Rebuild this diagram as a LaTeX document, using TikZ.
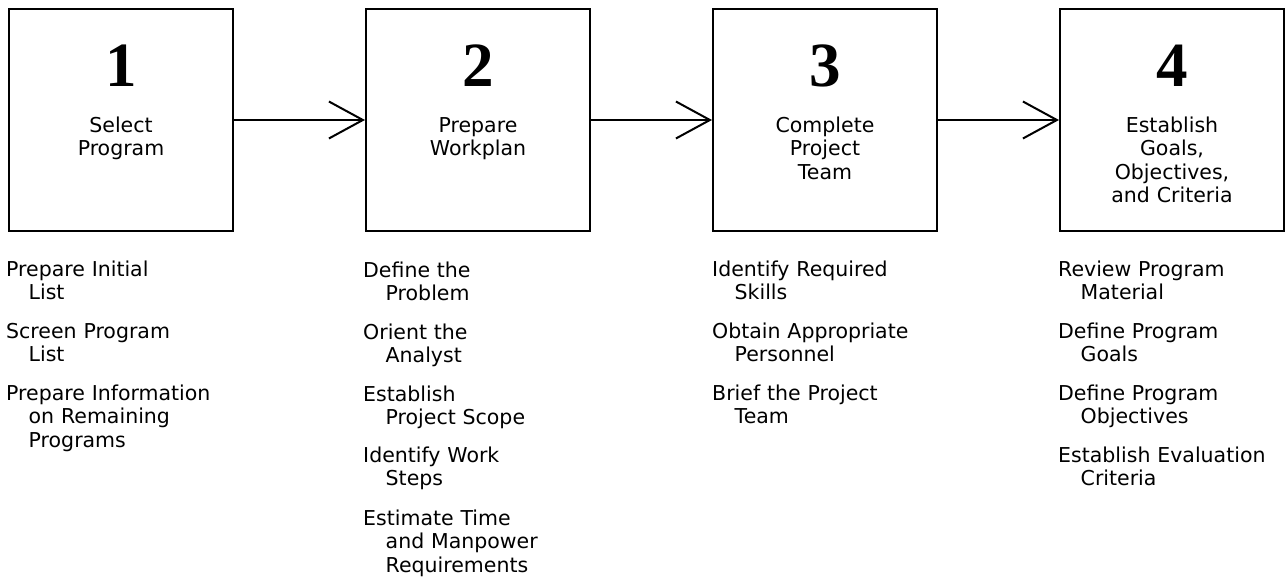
\documentclass[tikz,border=0pt]{standalone}
\usepackage{fontspec}
\setmainfont{DejaVu Sans}
\newfontfamily\numfont{Liberation Serif}
\usetikzlibrary{arrows.meta}

\begin{document}
\begin{tikzpicture}[x=1pt,y=-1pt,
  stage/.style={draw, line width=2pt, minimum width=224pt, minimum height=222pt, inner sep=0pt},
  stagenum/.style={anchor=base, inner sep=0pt, font=\numfont\bfseries\fontsize{63}{63}\selectfont},
  stagename/.style={anchor=base, inner sep=0pt, text width=210pt, align=center, font=\fontsize{20.5}{23.5}\selectfont},
  task/.style={anchor=base west, inner sep=0pt, text width=250pt, align=left, font=\fontsize{20.5}{23.5}\selectfont},
  flow/.style={line width=2pt, -{Straight Barb[length=34pt,width=37pt,line width=2pt]}}
]
\useasboundingbox (0,0) rectangle (1288,578);

% the four stages
\node[stage] (box1) at (121,120) {};
\node[stage] (box2) at (478,120) {};
\node[stage] (box3) at (825,120) {};
\node[stage] (box4) at (1172,120) {};

\node[stagenum] (n1) at (121,87) {1};
\node[stagenum] (n2) at (478,87) {2};
\node[stagenum] (n3) at (825,87) {3};
\node[stagenum] (n4) at (1172,87) {4};

\node[stagename] (t1) at (121,132) {Select\\Program};
\node[stagename] (t2) at (478,132) {Prepare\\Workplan};
\node[stagename] (t3) at (825,132) {Complete\\Project\\Team};
\node[stagename] (t4) at (1172,132) {Establish\\Goals,\\Objectives,\\and Criteria};

% flow between stages
\draw[flow] (box1.east) -- (box2.west);
\draw[flow] (box2.east) -- (box3.west);
\draw[flow] (box3.east) -- (box4.west);

% tasks of stage 1
\node[task] (a1) at (6,276) {Prepare Initial\\\hspace*{22.5pt}List};
\node[task] (a2) at (6,338) {Screen Program\\\hspace*{22.5pt}List};
\node[task] (a3) at (6,400) {Prepare Information\\\hspace*{22.5pt}on Remaining\\\hspace*{22.5pt}Programs};

% tasks of stage 2
\node[task] (b1) at (363,277) {Define the\\\hspace*{22.5pt}Problem};
\node[task] (b2) at (363,339) {Orient the\\\hspace*{22.5pt}Analyst};
\node[task] (b3) at (363,401) {Establish\\\hspace*{22.5pt}Project Scope};
\node[task] (b4) at (363,462) {Identify Work\\\hspace*{22.5pt}Steps};
\node[task] (b5) at (363,525) {Estimate Time\\\hspace*{22.5pt}and Manpower\\\hspace*{22.5pt}Requirements};

% tasks of stage 3
\node[task] (c1) at (712,276) {Identify Required\\\hspace*{22.5pt}Skills};
\node[task] (c2) at (712,338) {Obtain Appropriate\\\hspace*{22.5pt}Personnel};
\node[task] (c3) at (712,400) {Brief the Project\\\hspace*{22.5pt}Team};

% tasks of stage 4
\node[task] (d1) at (1058,276) {Review Program\\\hspace*{22.5pt}Material};
\node[task] (d2) at (1058,338) {Define Program\\\hspace*{22.5pt}Goals};
\node[task] (d3) at (1058,400) {Define Program\\\hspace*{22.5pt}Objectives};
\node[task] (d4) at (1058,462) {Establish Evaluation\\\hspace*{22.5pt}Criteria};
\end{tikzpicture}
\end{document}
